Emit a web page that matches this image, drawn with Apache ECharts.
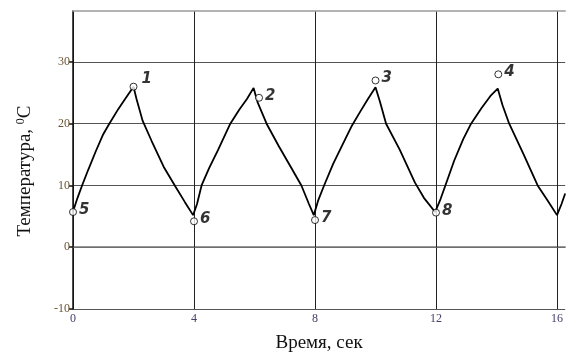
<!DOCTYPE html>
<html>
<head>
<meta charset="utf-8">
<script src="https://cdn.jsdelivr.net/npm/echarts@6/dist/echarts.min.js"></script>
<style>
  html, body { margin: 0; padding: 0; background: #fff; }
  #chart { width: 566px; height: 363px; }
</style>
</head>
<body>
<div id="chart"></div>
<script>
// Calculated temperature curve (time in seconds, temperature in °C)
const curveTime = [
    0, 0.15, 0.3, 0.5, 0.75, 1.0, 1.2, 1.5, 1.75, 2.0,
    2.1, 2.3, 2.6, 3.0, 3.4, 3.7, 3.97,
    4.1, 4.25, 4.5, 4.8, 5.2, 5.5, 5.75, 5.97,
    6.1, 6.4, 6.8, 7.2, 7.55, 7.8, 7.96,
    8.1, 8.3, 8.6, 9.0, 9.2, 9.5, 9.75, 10.0,
    10.15, 10.35, 10.8, 11.3, 11.6, 11.97,
    12.15, 12.31, 12.6, 12.9, 13.16, 13.5, 13.8, 14.04,
    14.2, 14.42, 14.9, 15.36, 15.7, 16.0,
    16.15, 16.27
];
const curveTemp = [
    5.8, 8, 10, 12.5, 15.5, 18.3, 20, 22.4, 24.2, 26,
    24, 20.5, 17.2, 13, 9.7, 7.3, 5.2,
    7, 10, 12.8, 15.8, 20, 22.3, 24, 25.8,
    23.5, 20, 16.4, 13, 10, 7, 5.2,
    7.5, 10, 13.5, 17.5, 19.5, 22, 24, 25.9,
    23.5, 20, 15.8, 10.5, 8, 5.7,
    7.8, 10, 14, 17.5, 20, 22.5, 24.5, 25.7,
    23, 20, 15, 10, 7.5, 5.2,
    7, 8.7
];

// Measured points with their numbers
const pointTime = [2, 6.15, 10, 14.06, 0, 4, 8, 12];
const pointTemp = [26, 24.2, 27, 28, 5.7, 4.2, 4.4, 5.6];
const pointLabels = ['1', '2', '3', '4', '5', '6', '7', '8'];

// Tick values shown on the axes
const xTicks = [0, 4, 8, 12, 16];
const yTicks = [-10, 0, 10, 20, 30];

const chart = echarts.init(document.getElementById('chart'));

const curveData = curveTime.map((t, i) => [t, curveTemp[i]]);
const pointData = pointTime.map((t, i) => ({
    value: [t, pointTemp[i]],
    label: {
        show: true,
        formatter: pointLabels[i],
        position: 'right',
        offset: i === 0 ? [2, -8] : [0, -2]
    }
}));

const serif = 'Liberation Serif';

chart.setOption({
    animation: false,
    grid: { left: 73, top: 11, right: 0, bottom: 54 },
    xAxis: [
        {
            type: 'value',
            min: 0,
            max: 16.27,
            name: 'Время, сек',
            nameLocation: 'middle',
            nameGap: 25,
            nameTextStyle: { fontFamily: serif, fontSize: 19, color: '#111' },
            axisLine: { show: true, lineStyle: { color: '#777', width: 1.5 } },
            axisTick: { show: true, inside: true, length: 3, customValues: xTicks, lineStyle: { color: '#222' } },
            axisLabel: {
                fontFamily: serif, fontSize: 12, color: '#45406a', margin: 4,
                customValues: xTicks
            },
            splitLine: { show: true, lineStyle: { color: '#222', width: 1 } }
        },
        {
            // plain top border of the plot
            type: 'value',
            position: 'top',
            min: 0,
            max: 16.27,
            axisLine: { show: true, lineStyle: { color: '#9a9a9a', width: 1.5 } },
            axisTick: { show: false },
            axisLabel: { show: false },
            splitLine: { show: false }
        }
    ],
    yAxis: {
        type: 'value',
        min: -10,
        max: 38.25,
        name: '{a|Температура, }{s|0}{a|C}',
        nameLocation: 'middle',
        nameGap: 38,
        nameRotate: 90,
        nameTextStyle: {
            padding: [0, 22, 0, 0],
            rich: {
                a: { fontFamily: serif, fontSize: 19, color: '#111' },
                s: { fontFamily: serif, fontSize: 12, color: '#111', verticalAlign: 'top', padding: [0, 0, 8, 0] }
            }
        },
        axisLine: { show: true, lineStyle: { color: '#111', width: 1.5 } },
        axisTick: { show: true, length: 4, customValues: yTicks, lineStyle: { color: '#111', width: 1.5 } },
        axisLabel: {
            fontFamily: serif, fontSize: 12, color: '#6a5430', margin: 3,
            customValues: yTicks
        },
        splitLine: { show: true, lineStyle: { color: '#555', width: 1 } }
    },
    series: [
        {
            type: 'line',
            data: curveData,
            showSymbol: false,
            symbol: 'none',
            lineStyle: { color: '#000', width: 1.8 },
            z: 3
        },
        {
            type: 'scatter',
            data: pointData,
            symbol: 'circle',
            symbolSize: 7,
            itemStyle: { color: '#fff', borderColor: '#000', borderWidth: 1 },
            label: {
                fontFamily: 'DejaVu Sans',
                fontStyle: 'italic',
                fontWeight: 'bold',
                fontSize: 15,
                color: '#000',
                distance: 2
            },
            z: 4
        }
    ]
});
</script>
</body>
</html>
